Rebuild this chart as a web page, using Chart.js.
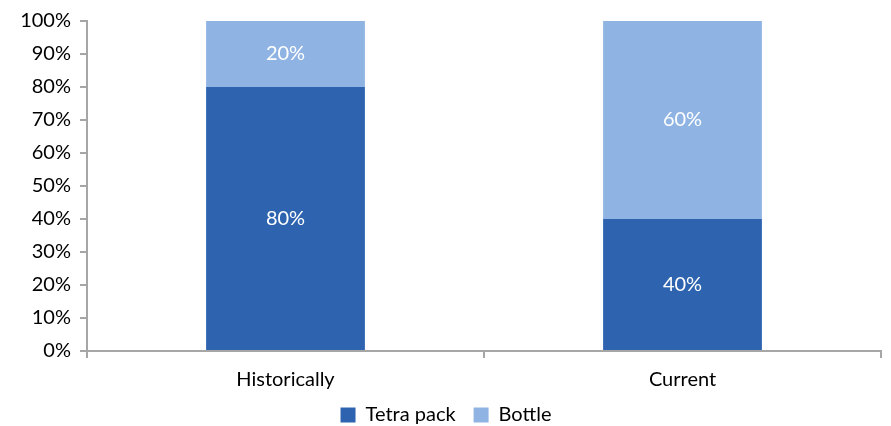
<!DOCTYPE html>
<html>
<head>
<meta charset="utf-8">
<script src="https://cdn.jsdelivr.net/npm/chart.js@4"></script>
<style>
  html, body { margin: 0; padding: 0; background: #fff; }
  #wrap { width: 891px; height: 426px; }
</style>
</head>
<body>
<div id="wrap"><canvas id="packChart"></canvas></div>
<script>
"use strict";

const categories = ["Historically", "Current"];
const tetraPack = [80, 40];
const bottle = [20, 60];
const yTicks = [0, 10, 20, 30, 40, 50, 60, 70, 80, 90, 100];

const fontFamily = "Lato, 'Open Sans', sans-serif";
const fontSize = 20;
const axisGrey = "#a6a6a6";

// white percentage labels in the middle of each segment
const segmentLabels = {
  id: "segmentLabels",
  afterDatasetsDraw(chart) {
    const c = chart.ctx;
    c.save();
    c.fillStyle = "#ffffff";
    c.font = fontSize + "px " + fontFamily;
    c.textAlign = "center";
    c.textBaseline = "middle";
    chart.data.datasets.forEach((ds, i) => {
      const meta = chart.getDatasetMeta(i);
      meta.data.forEach((bar, j) => {
        const y = (bar.y + bar.base) / 2;
        c.fillText(ds.data[j] + "%", bar.x, y);
      });
    });
    c.restore();
  },
};

new Chart(document.getElementById("packChart"), {
  type: "bar",
  data: {
    labels: categories,
    datasets: [
      {
        label: "Tetra pack",
        data: tetraPack,
        backgroundColor: "#2e64af",
        categoryPercentage: 0.4,
        barPercentage: 1,
      },
      {
        label: "Bottle",
        data: bottle,
        backgroundColor: "#8fb4e3",
        categoryPercentage: 0.4,
        barPercentage: 1,
      },
    ],
  },
  options: {
    responsive: true,
    maintainAspectRatio: false,
    animation: false,
    // legend sits lower than Chart.js puts it by default
    layout: { padding: { top: 12, right: 10, left: 11, bottom: -9 } },
    plugins: {
      tooltip: { enabled: false },
      legend: {
        position: "bottom",
        labels: {
          color: "#000",
          font: { family: fontFamily, size: fontSize },
          boxWidth: 15,
          boxHeight: 15,
          padding: 3,
          // labels.padding also sets the row height, so widen the gap
          // between the two entries with a trailing em space instead
          generateLabels(chart) {
            const items = Chart.defaults.plugins.legend.labels.generateLabels(chart);
            items[0].text += "\u2003";
            return items;
          },
        },
      },
    },
    scales: {
      x: {
        stacked: true,
        grid: {
          display: true,
          drawOnChartArea: false,
          offset: true,
          color: axisGrey,
          lineWidth: 2,
          tickLength: 7,
        },
        border: { color: axisGrey, width: 2 },
        ticks: {
          color: "#000",
          font: { family: fontFamily, size: fontSize },
          padding: 10,
        },
      },
      y: {
        stacked: true,
        min: 0,
        max: 100,
        afterBuildTicks(axis) {
          axis.ticks = yTicks.map((v) => ({ value: v }));
        },
        afterFit(axis) {
          axis.width = 76;
        },
        grid: {
          display: true,
          drawOnChartArea: false,
          color: axisGrey,
          lineWidth: 2,
          tickLength: 7,
        },
        border: { color: axisGrey, width: 2 },
        ticks: {
          color: "#000",
          font: { family: fontFamily, size: fontSize },
          padding: 9,
          callback: (v) => v + "%",
        },
      },
    },
  },
  plugins: [segmentLabels],
});
</script>
</body>
</html>
